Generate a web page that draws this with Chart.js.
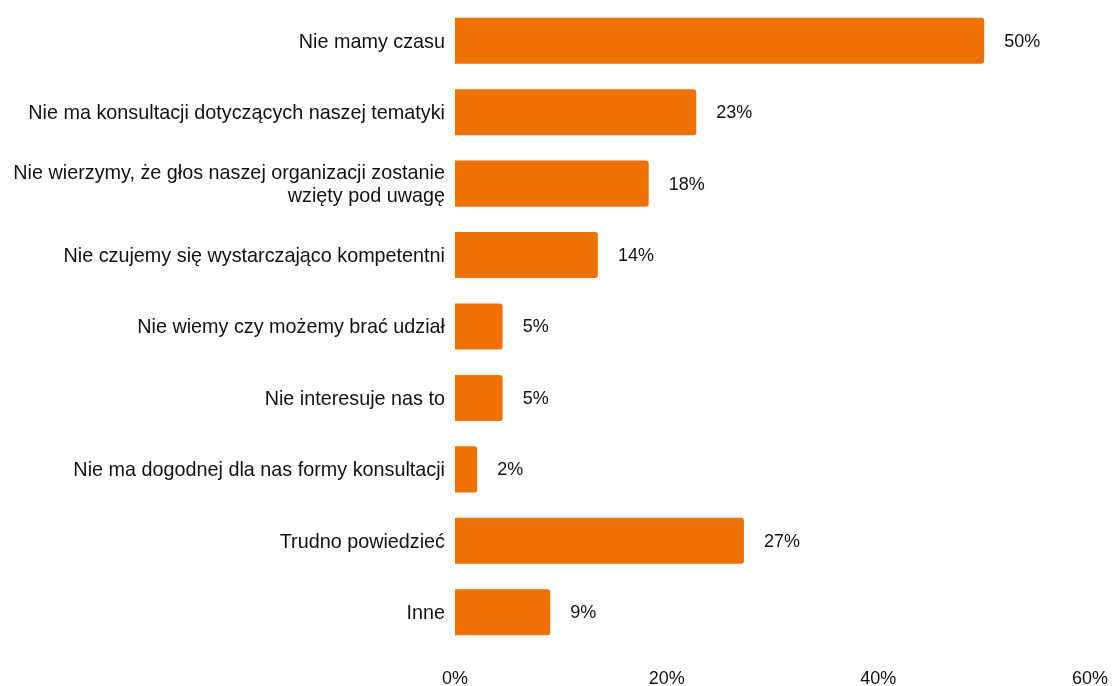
<!DOCTYPE html>
<html lang="pl">
<head>
    <meta charset="UTF-8">
    <title>Powody</title>
    <script src="https://cdn.jsdelivr.net/npm/chart.js"></script>
    <style>
        html, body { margin: 0; padding: 0; background: #fff; }
        .wrap { width: 1112px; height: 686px; }
    </style>
</head>
<body>
    <div class="wrap"><canvas id="reasonsChart"></canvas></div>

    <script>
        // categories (multi-line labels as arrays)
        const categories = [
            'Nie mamy czasu',
            'Nie ma konsultacji dotyczących naszej tematyki',
            ['Nie wierzymy, że głos naszej organizacji zostanie', 'wzięty pod uwagę'],
            'Nie czujemy się wystarczająco kompetentni',
            'Nie wiemy czy możemy brać udział',
            'Nie interesuje nas to',
            'Nie ma dogodnej dla nas formy konsultacji',
            'Trudno powiedzieć',
            'Inne'
        ];
        // share of answers, %
        const shares = [50.0, 22.8, 18.3, 13.5, 4.5, 4.5, 2.1, 27.3, 9.0];
        const xTicks = [0, 20, 40, 60];

        const textColor = '#111111';
        const fontFamily = '"Liberation Sans", Arial, sans-serif';

        // value labels drawn after each bar
        const valueLabels = {
            id: 'valueLabels',
            afterDatasetsDraw(chart) {
                const ctx = chart.ctx;
                const meta = chart.getDatasetMeta(0);
                ctx.save();
                ctx.font = '18px ' + fontFamily;
                ctx.fillStyle = textColor;
                ctx.textAlign = 'left';
                ctx.textBaseline = 'middle';
                meta.data.forEach((bar, i) => {
                    ctx.fillText(Math.round(shares[i]) + '%', bar.x + 20, bar.y + 1);
                });
                ctx.restore();
            }
        };

        const ctx = document.getElementById('reasonsChart').getContext('2d');
        new Chart(ctx, {
            type: 'bar',
            data: {
                labels: categories,
                datasets: [{
                    data: shares,
                    backgroundColor: '#ee7203',
                    borderRadius: { topRight: 3, bottomRight: 3, topLeft: 0, bottomLeft: 0 },
                    borderSkipped: false,
                    barPercentage: 0.645,
                    categoryPercentage: 1
                }]
            },
            options: {
                indexAxis: 'y',
                responsive: true,
                maintainAspectRatio: false,
                animation: false,
                layout: { padding: { top: 5, right: 0, left: 0, bottom: 0 } },
                plugins: {
                    legend: { display: false },
                    tooltip: { enabled: false }
                },
                scales: {
                    x: {
                        min: 0,
                        max: 60,
                        afterBuildTicks: axis => { axis.ticks = xTicks.map(v => ({ value: v })); },
                        afterFit: axis => {
                            axis.height = 38;
                            axis.paddingLeft = 0;
                            axis.paddingRight = 22;
                        },
                        grid: { display: false, drawTicks: false },
                        border: { display: false },
                        ticks: {
                            padding: 20,
                            maxRotation: 0,
                            color: textColor,
                            font: { family: fontFamily, size: 18 },
                            callback: v => v + '%'
                        }
                    },
                    y: {
                        afterFit: axis => {
                            axis.width = 455;
                            axis.paddingTop = 0;
                            axis.paddingBottom = 0;
                        },
                        grid: { display: false, drawTicks: false },
                        border: { display: false },
                        ticks: {
                            padding: 10,
                            labelOffset: 1.5,
                            color: textColor,
                            font: { family: fontFamily, size: 19.8, lineHeight: 1.16 }
                        }
                    }
                }
            },
            plugins: [valueLabels]
        });
    </script>
</body>
</html>
